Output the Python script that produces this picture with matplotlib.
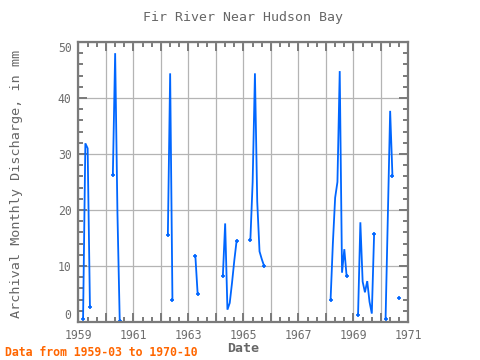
import matplotlib
matplotlib.use("Agg")
import matplotlib.pyplot as plt
from matplotlib.ticker import MultipleLocator, FuncFormatter
import numpy as np

# ---- data (monthly values, mm) ----
months = ["1959-03", "1959-04", "1959-05", "1959-06",
          "1960-04", "1960-05", "1960-06", "1960-07",
          "1962-04", "1962-05", "1962-06",
          "1963-04", "1963-05",
          "1964-04", "1964-05", "1964-06", "1964-07", "1964-08", "1964-09", "1964-10",
          "1965-04", "1965-05", "1965-06", "1965-07", "1965-08", "1965-09", "1965-10",
          "1968-03", "1968-04", "1968-05", "1968-06", "1968-07", "1968-08", "1968-09", "1968-10",
          "1969-03", "1969-04", "1969-05", "1969-06", "1969-07", "1969-08", "1969-09", "1969-10",
          "1970-03", "1970-04", "1970-05", "1970-06",
          "1970-09"]
discharge = [0.5, 31.9, 31.0, 2.7,
             26.3, 48.0, 19.5, 0.2,
             15.5, 44.4, 3.9,
             11.8, 5.0,
             8.2, 17.6, 2.2, 3.4, 7.0, 11.0, 14.5,
             14.6, 25.0, 44.4, 21.5, 12.6, 11.2, 10.0,
             3.9, 14.0, 22.2, 25.0, 44.8, 8.8, 13.0, 8.2,
             1.3, 17.8, 7.2, 5.3, 7.3, 3.6, 1.5, 15.7,
             0.5, 19.0, 37.7, 26.1,
             4.3]

title = "Fir River Near Hudson Bay"
xlabel = "Date"
ylabel = "Archival Monthly Discharge, in mm"
note = "Data from 1959-03 to 1970-10"

# ---- split into continuous monthly segments ----
idx = np.array([int(m[:4]) * 12 + int(m[5:7]) - 1 for m in months])
t = idx / 12.0
v = np.array(discharge, dtype=float)
breaks = np.where(np.diff(idx) > 1)[0] + 1
seg_t = np.split(t, breaks)
seg_v = np.split(v, breaks)

plt.rcParams['font.family'] = ['DejaVu Sans Mono']
gray = '#7a7a7a'
blue = '#0066ff'

fig = plt.figure(figsize=(4.8, 3.6), dpi=100)
ax = fig.add_axes([0.1635, 0.1056, 0.6875, 0.7778])

for st, sv in zip(seg_t, seg_v):
    ax.plot(st, sv, color=blue, lw=1.3, solid_joinstyle='miter')
    ends_t = [st[0], st[-1]] if len(st) > 1 else [st[0]]
    ends_v = [sv[0], sv[-1]] if len(sv) > 1 else [sv[0]]
    ax.plot(ends_t, ends_v, ls='none', marker='+', ms=3, mew=1.2, color=blue)

ax.set_xlim(1959, 1971)
ax.set_ylim(0, 50)

ax.xaxis.set_major_locator(MultipleLocator(1))
ax.xaxis.set_minor_locator(MultipleLocator(1 / 3))
ax.xaxis.set_major_formatter(FuncFormatter(lambda x, p: f"{int(round(x))}" if int(round(x)) % 2 == 1 else ""))
ax.yaxis.set_major_locator(MultipleLocator(10))
ax.yaxis.set_minor_locator(MultipleLocator(2))
ax.yaxis.set_major_formatter(FuncFormatter(lambda y, p: f"{int(round(y))}"))

ax.grid(True, which='major', color='#b4b4b4', lw=0.9)
ax.set_axisbelow(True)

for s in ax.spines.values():
    s.set_color(gray)
    s.set_linewidth(1.6)

ax.tick_params(which='both', direction='in', top=True, right=True, color=gray,
               labelcolor='#6e6e6e', labelsize=8.3, width=1.4)
ax.tick_params(which='major', length=6.5)
ax.tick_params(which='minor', length=3.5)
ax.tick_params(axis='x', pad=5)
ax.tick_params(axis='y', pad=5)

fig.canvas.draw()
for lab in ax.get_yticklabels():
    txt = lab.get_text()
    if txt == '0':
        lab.set_va('bottom')
    elif txt == '50':
        lab.set_va('top')

fig.text(0.5 * (0.1635 + 0.851), 1 - 18 / 360, title, ha='center', va='center',
         fontsize=9.5, color='#666666')
fig.text(0.5 * (0.1635 + 0.851), 1 - 348 / 360, xlabel, ha='center', va='center',
         fontsize=9.5, color='#666666', fontweight='bold')
fig.text(17 / 480, 1 - 184 / 360, ylabel, ha='center', va='center', rotation=90,
         fontsize=9.7, color='#666666')
fig.text(5 / 480, 1 - 352 / 360, note, ha='left', va='center',
         fontsize=8.3, color='#ff6600', fontweight='bold')

fig.savefig("out.png", dpi=100, facecolor='white')
